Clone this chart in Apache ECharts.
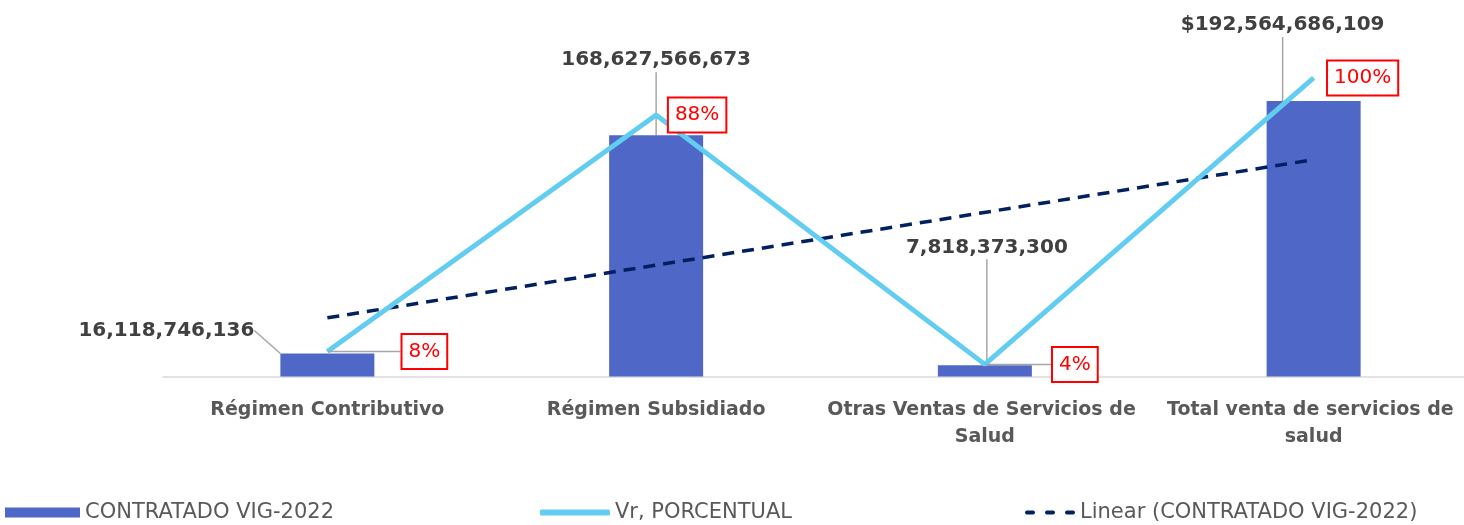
<!DOCTYPE html>
<html>
<head>
<meta charset="utf-8">
<script src="https://cdn.jsdelivr.net/npm/echarts@6/dist/echarts.min.js"></script>
<style>
  html, body { margin: 0; padding: 0; background: #fff; }
  #main { width: 1464px; height: 525px; }
</style>
</head>
<body>
<div id="main"></div>
<script>
// datos
var categorias = ['Régimen Contributivo', 'Régimen Subsidiado', 'Otras Ventas de Servicios de Salud', 'Total venta de servicios de salud'];
var contratado = [16118746136, 168627566673, 7818373300, 192564686109];
var porcentual = [8.37, 87.57, 4.06, 100];
// tendencia lineal (extremos)
var tendencia = [41.0e9, null, null, 151.6e9];

var nombres = ['CONTRATADO VIG-2022', 'Vr, PORCENTUAL', 'Linear (CONTRATADO VIG-2022)'];

// desplazamiento de etiquetas
var offsetBarras = [[-161, -11], [0, -63], [2, -106], [-31, -64]];
var offsetPct = [[97, 0], [41, 0], [90, 0], [49, 0]];

var myChart = echarts.init(document.getElementById('main'));

function fmt(v) {
    return v.toLocaleString('en-US');
}

var pctData = [];
for (var i = 0; i < porcentual.length; i++) {
    pctData.push({
        value: porcentual[i],
        labelLine: { show: (i == 0 || i == 2) }
    });
}

var legendText = { fontSize: 21, color: '#595959', fontFamily: 'DejaVu Sans' };

var option = {
    animation: false,
    textStyle: { fontFamily: 'DejaVu Sans' },
    grid: { left: 163, right: -14, top: 0, bottom: 148.5, outerBoundsMode: 'none', containLabel: false },
    legend: [
        {
            data: [nombres[0]], left: 5, top: 502, padding: 0, icon: 'rect',
            itemWidth: 75, itemHeight: 10, itemGap: 8,
            textStyle: legendText
        },
        {
            data: [nombres[1]], left: 540, top: 502, padding: 0, icon: 'roundRect',
            itemWidth: 70, itemHeight: 6,
            textStyle: legendText
        },
        {
            data: [{
                name: nombres[2],
                icon: 'path://M2,0h6a2,2 0 0 1 0,4h-6a2,2 0 0 1 0,-4z M22,0h6a2,2 0 0 1 0,4h-6a2,2 0 0 1 0,-4z M42,0h6a2,2 0 0 1 0,4h-6a2,2 0 0 1 0,-4z'
            }],
            left: 1025, top: 502, padding: 0,
            itemWidth: 50, itemHeight: 5,
            textStyle: legendText
        }
    ],
    xAxis: {
        type: 'category',
        data: categorias,
        axisTick: { show: false },
        axisLine: { lineStyle: { color: '#d9d9d9', width: 1.5 } },
        axisLabel: {
            interval: 0,
            margin: 20,
            width: 325,
            overflow: 'break',
            lineHeight: 27,
            fontSize: 19,
            fontWeight: 'bold',
            color: '#595959',
            fontFamily: 'DejaVu Sans'
        }
    },
    yAxis: [
        { type: 'value', min: 0, max: 263.2e9, show: false, splitLine: { show: false } },
        { type: 'value', min: 0, max: 126.1, show: false, splitLine: { show: false } }
    ],
    series: [
        {
            name: nombres[0],
            type: 'bar',
            data: contratado,
            barWidth: 94,
            itemStyle: { color: '#4f67c7' },
            label: {
                show: true,
                position: 'top',
                distance: 0,
                fontSize: 20,
                lineHeight: 24,
                fontWeight: 'bold',
                color: '#404040',
                fontFamily: 'DejaVu Sans',
                formatter: function (p) {
                    return (p.dataIndex == 3 ? '$' : '') + fmt(p.value);
                }
            },
            labelLayout: function (p) {
                return { dx: offsetBarras[p.dataIndex][0], dy: offsetBarras[p.dataIndex][1] };
            },
            labelLine: { show: true, lineStyle: { color: '#a6a6a6', width: 1.5 } }
        },
        {
            name: nombres[2],
            type: 'line',
            data: tendencia,
            connectNulls: true,
            symbol: 'none',
            z: 3,
            itemStyle: { color: '#002060' },
            lineStyle: { color: '#002060', width: 3.5, type: [12, 8] }
        },
        {
            name: nombres[1],
            type: 'line',
            yAxisIndex: 1,
            data: pctData,
            symbol: 'circle',
            symbolSize: 1,
            showSymbol: true,
            z: 4,
            itemStyle: { color: '#62cdf1' },
            lineStyle: { color: '#62cdf1', width: 5 },
            label: {
                show: true,
                position: 'inside',
                fontSize: 20,
                color: '#ff0000',
                fontFamily: 'DejaVu Sans',
                backgroundColor: '#ffffff',
                borderColor: '#ff0000',
                borderWidth: 2,
                padding: [7, 6, 6, 6],
                formatter: function (p) {
                    return Math.round(p.value) + '%';
                }
            },
            labelLayout: function (p) {
                return { dx: offsetPct[p.dataIndex][0], dy: offsetPct[p.dataIndex][1] };
            },
            labelLine: { show: true, lineStyle: { color: '#a6a6a6', width: 1.5 } }
        }
    ]
};

myChart.setOption(option);
</script>
</body>
</html>
